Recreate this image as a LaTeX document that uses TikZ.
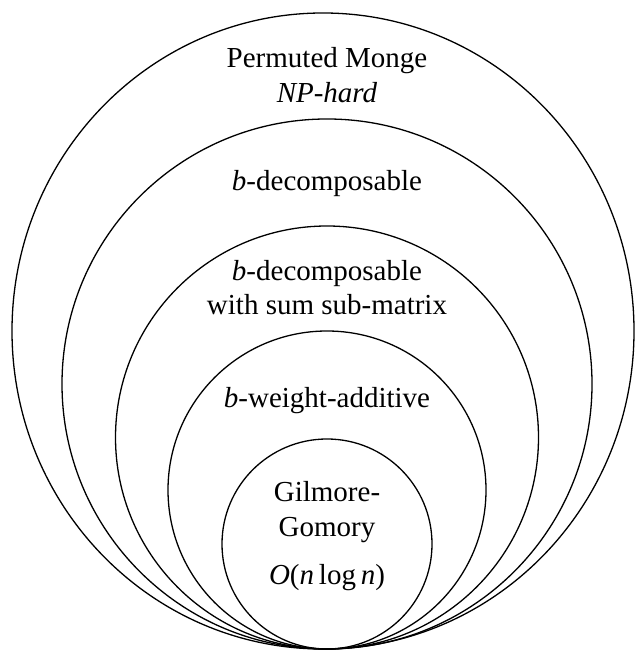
\documentclass[tikz,border=0pt]{standalone}
\usepackage{fontspec}
\setmainfont{Liberation Serif}
\begin{document}
\begin{tikzpicture}[x=1pt,y=1pt,
  ring/.style={draw=black,line width=1.3pt},
  lbl/.style={anchor=base,inner sep=0pt,font=\fontsize{29}{35}\selectfont}]
\useasboundingbox (0,0) rectangle (635,650);
\clip (0,0) rectangle (635,650);
\coordinate (t) at (325,1);
\draw[ring] (323,319) ellipse[x radius=311, y radius=318];
\draw[ring] (327,266) circle[radius=265];
\draw[ring] (327,212.5) circle[radius=211.5];
\draw[ring] (327,160) circle[radius=159];
\draw[ring] (327,106) circle[radius=105];
\node[lbl] (pm) at (327,582) {Permuted Monge};
\node[lbl] (np) at (327,547) {\textit{NP-hard}};
\node[lbl] (bd) at (327,459) {\textit{b}-decomposable};
\node[lbl] (bd2) at (327,369) {\textit{b}-decomposable};
\node[lbl] (ws) at (327,335) {with sum sub-matrix};
\node[lbl] (bw) at (327,242) {\textit{b}-weight-additive};
\node[lbl] (gi) at (327,148) {Gilmore-};
\node[lbl] (go) at (327,113) {Gomory};
\node[lbl] (on) at (327,65) {\textit{O}(\textit{n}\,log\,\textit{n})};
\end{tikzpicture}
\end{document}
